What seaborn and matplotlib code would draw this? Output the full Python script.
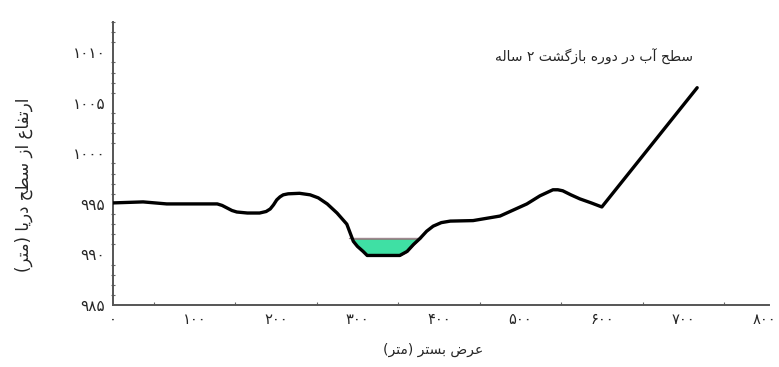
import re

import matplotlib
import matplotlib.pyplot as plt
import pandas as pd
import seaborn as sns
from matplotlib.ticker import MultipleLocator

matplotlib.use("Agg")

# bed profile of the cross section (width in m, elevation in m)
bed_x = [0, 37, 66, 128, 134, 140, 146, 152, 165, 180, 188, 193, 197, 201,
         205, 209, 215, 229, 242, 252, 263, 275, 287, 295, 300, 307, 312,
         352, 361, 369, 377, 385, 393, 403, 414, 442, 475, 508, 524, 532,
         540, 546, 552, 562, 573, 587, 600, 717]
bed_y = [995.1, 995.2, 995.0, 995.0, 994.85, 994.6, 994.35, 994.2, 994.1,
         994.1, 994.25, 994.5, 994.9, 995.4, 995.7, 995.9, 996.0, 996.05,
         995.9, 995.6, 995.0, 994.1, 993.0, 991.3, 990.8, 990.3, 989.9,
         989.9, 990.3, 991.0, 991.6, 992.3, 992.8, 993.15, 993.3, 993.35,
         993.8, 995.0, 995.8, 996.1, 996.4, 996.4, 996.3, 995.9, 995.5,
         995.1, 994.7, 1006.5]
water_level = 991.6  # 2-year return period

x_ticks = [0, 100, 200, 300, 400, 500, 600, 700, 800]
y_ticks = [985, 990, 995, 1000, 1005, 1010]

title_text = "سطح آب در دوره بازگشت ۲ ساله"
x_label = "عرض بستر (متر)"
y_label = "ارتفاع از سطح دریا (متر)"

# contextual forms: isolated, final, initial, medial
FORMS = {
    "ا": ("\uFE8D", "\uFE8E", None, None),
    "آ": ("\uFE81", "\uFE82", None, None),
    "د": ("\uFEA9", "\uFEAA", None, None),
    "ر": ("\uFEAD", "\uFEAE", None, None),
    "ز": ("\uFEAF", "\uFEB0", None, None),
    "و": ("\uFEED", "\uFEEE", None, None),
    "ب": ("\uFE8F", "\uFE90", "\uFE91", "\uFE92"),
    "ت": ("\uFE95", "\uFE96", "\uFE97", "\uFE98"),
    "ح": ("\uFEA1", "\uFEA2", "\uFEA3", "\uFEA4"),
    "س": ("\uFEB1", "\uFEB2", "\uFEB3", "\uFEB4"),
    "ش": ("\uFEB5", "\uFEB6", "\uFEB7", "\uFEB8"),
    "ض": ("\uFEBD", "\uFEBE", "\uFEBF", "\uFEC0"),
    "ط": ("\uFEC1", "\uFEC2", "\uFEC3", "\uFEC4"),
    "ع": ("\uFEC9", "\uFECA", "\uFECB", "\uFECC"),
    "ف": ("\uFED1", "\uFED2", "\uFED3", "\uFED4"),
    "گ": ("\uFB92", "\uFB93", "\uFB94", "\uFB95"),
    "ل": ("\uFEDD", "\uFEDE", "\uFEDF", "\uFEE0"),
    "م": ("\uFEE1", "\uFEE2", "\uFEE3", "\uFEE4"),
    "ه": ("\uFEE9", "\uFEEA", "\uFEEB", "\uFEEC"),
    "ی": ("\uFBFC", "\uFBFD", "\uFBFE", "\uFBFF"),
}


def fa(text):
    """Shape Persian text and put it in visual (left to right) order."""
    out = []
    for i, ch in enumerate(text):
        if ch not in FORMS:
            out.append(ch)
            continue
        prev = text[i - 1] if i > 0 else ""
        nxt = text[i + 1] if i + 1 < len(text) else ""
        iso, fin, ini, med = FORMS[ch]
        join_prev = prev in FORMS and FORMS[prev][2] is not None
        join_next = ini is not None and nxt in FORMS
        if join_prev and join_next:
            out.append(med)
        elif join_prev:
            out.append(fin)
        elif join_next:
            out.append(ini)
        else:
            out.append(iso)
    runs = re.findall(r"[0-9۰-۹]+|[^0-9۰-۹]", "".join(out))
    mirror = {"(": ")", ")": "("}
    return "".join(mirror.get(r, r) for r in reversed(runs))


def fa_num(v):
    return str(v).translate(str.maketrans("0123456789", "۰۱۲۳۴۵۶۷۸۹"))


sns.set_theme(style="white")
plt.rcParams["font.family"] = ["DejaVu Sans"]

df = pd.DataFrame({"x": bed_x, "y": bed_y})

fig = plt.figure(figsize=(7.79, 3.67), dpi=100)
ax = fig.add_axes([0.145, 0.169, 0.842, 0.771])

# water in the main channel
ax.fill_between(df["x"], df["y"], water_level, where=df["y"] < water_level,
                interpolate=True, facecolor="#3fe0a4", edgecolor="#b8344e",
                linewidth=1.0, zorder=2)
wet = df[df["y"] < water_level]
ax.plot([wet["x"].min() - 5, wet["x"].max() + 9], [water_level, water_level],
        color="#a08890", linewidth=1.0, zorder=2)

sns.lineplot(data=df, x="x", y="y", sort=False, color="black",
             linewidth=2.4, ax=ax, zorder=3, solid_joinstyle="round",
             solid_capstyle="round")

ax.set_xlim(0, 805)
ax.set_ylim(985, 1013)
ax.set_xticks(x_ticks)
ax.set_xticklabels([fa_num(v) for v in x_ticks], fontsize=10.5)
ax.set_yticks(y_ticks)
ax.set_yticklabels([fa_num(v) for v in y_ticks], fontsize=11)
ax.xaxis.set_minor_locator(MultipleLocator(50))
ax.yaxis.set_minor_locator(MultipleLocator(1))
ax.tick_params(axis="x", which="major", direction="in", length=4, width=1,
               color="#444444", pad=5)
ax.tick_params(axis="x", which="minor", direction="in", length=2.5,
               width=0.8, color="#666666", bottom=True)
ax.tick_params(axis="y", which="major", direction="inout", length=5,
               width=1, color="#444444", pad=3)
ax.tick_params(axis="y", which="minor", direction="inout", length=3,
               width=0.8, color="#666666", left=True)
ax.set_xlabel("")
ax.set_ylabel("")

sns.despine(ax=ax)
for side in ["left", "bottom"]:
    ax.spines[side].set_color("#555555")
    ax.spines[side].set_linewidth(1.4)

ax.text(0.884, 0.876, fa(title_text), transform=ax.transAxes,
        ha="right", va="center", fontsize=10)
fig.text(433 / 779, 1 - 350 / 367, fa(x_label), ha="center", va="center",
         fontsize=10)
fig.text(24 / 779, 1 - 185 / 367, fa(y_label), ha="center", va="center",
         rotation=90, fontsize=12)

fig.savefig("out.png", dpi=100, facecolor="white")
plt.close(fig)
